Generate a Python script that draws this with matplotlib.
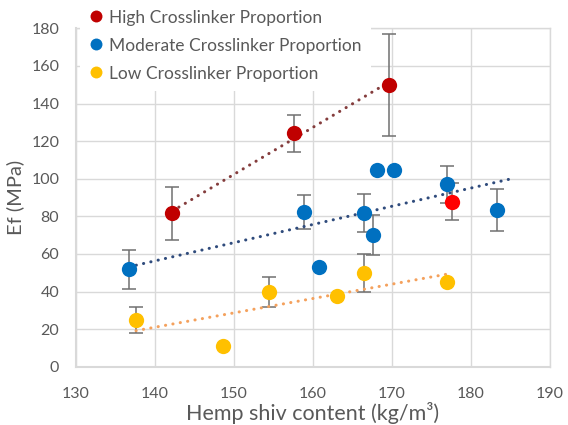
import numpy as np
import matplotlib
matplotlib.use("Agg")
import matplotlib.pyplot as plt

plt.rcParams['font.family'] = ['Lato', 'DejaVu Sans']

# --- data ---
high_x = [142.2, 157.6, 169.6]
high_y = [81.6, 124.1, 149.8]
high_err = [14.0, 10.0, 27.0]

outlier_x = [177.6]
outlier_y = [87.8]
outlier_err = [9.7]

mod_x = [136.7, 158.8, 160.8, 166.5, 167.6, 168.1, 170.2, 177.0, 183.3]
mod_y = [51.8, 82.3, 53.2, 81.6, 70.1, 104.6, 104.6, 97.0, 83.2]
mod_err = [10.3, 9.0, 0.0, 10.0, 10.5, 0.0, 0.0, 9.8, 11.2]

low_x = [137.6, 148.6, 154.4, 163.1, 166.5, 177.0]
low_y = [24.8, 11.0, 39.6, 37.8, 49.7, 45.0]
low_err = [6.8, 0.0, 8.0, 0.0, 10.0, 0.0]

mod_forecast = 1.6  # forward trendline forecast for moderate series

x_ticks = [130, 140, 150, 160, 170, 180, 190]
y_ticks = [0, 20, 40, 60, 80, 100, 120, 140, 160, 180]

labels = ["High Crosslinker Proportion", "Moderate Crosslinker Proportion",
          "Low Crosslinker Proportion"]

c_high, c_mod, c_low, c_out = "#C00000", "#0070C0", "#FFC000", "#FF0000"
t_high, t_mod, t_low = "#843C3C", "#2F4B7C", "#F4A15D"
grey_txt = "#595959"
grid_c = "#D9D9D9"

fig = plt.figure(figsize=(5.68, 4.25), dpi=100)
ax = fig.add_axes([76/568, 1-366.7/425, (550-76)/568, (366.7-28.3)/425])

def trend(x, y, color, forward=0.0):
    x = np.asarray(x); y = np.asarray(y)
    m, b = np.polyfit(x, y, 1)
    xs = np.array([x.min(), x.max() + forward])
    ax.plot(xs, m*xs + b, color=color, lw=2.2, linestyle=(0, (0.05, 2.4)),
            dash_capstyle='round', zorder=3)

def series(x, y, err, color, label=None):
    err = np.asarray(err, dtype=float)
    ax.errorbar(x, y, yerr=err, fmt='none', ecolor="#707070", elinewidth=1.1,
                capsize=4.7, capthick=1.1, zorder=2)
    ax.plot(x, y, 'o', color=color, markersize=11, markeredgewidth=0,
            zorder=4, label=label)

series(high_x, high_y, high_err, c_high, labels[0])
series(mod_x, mod_y, mod_err, c_mod, labels[1])
series(low_x, low_y, low_err, c_low, labels[2])
series(outlier_x, outlier_y, outlier_err, c_out)

trend(high_x, high_y, t_high)
trend(mod_x, mod_y, t_mod, mod_forecast)
trend(low_x, low_y, t_low)

ax.set_xlim(130, 190)
ax.set_ylim(0, 180)
ax.set_xticks(x_ticks)
ax.set_yticks(y_ticks)
ax.grid(True, color=grid_c, lw=1)
ax.set_axisbelow(True)
for s in ax.spines.values():
    s.set_color(grid_c)
    s.set_linewidth(1)
ax.spines['left'].set_linewidth(1.5)
ax.spines['bottom'].set_linewidth(1.5)
ax.tick_params(length=0, labelsize=11.5, labelcolor=grey_txt)
ax.tick_params(axis='x', pad=14.5)
ax.tick_params(axis='y', pad=12)

ax.set_xlabel("Hemp shiv content (kg/m³)", fontsize=15.5, color=grey_txt, labelpad=1)
ax.set_ylabel("Ef (MPa)", fontsize=14.5, color=grey_txt, labelpad=5)

handles, labs = ax.get_legend_handles_labels()
leg = ax.legend(handles, labs, loc='upper left', bbox_to_anchor=(80/568, 1.0),
                bbox_transform=fig.transFigure, frameon=True, fontsize=12.5,
                markerscale=0.78, handlelength=0.8, handletextpad=0.3,
                labelspacing=0.69, borderpad=0.55, borderaxespad=0)
leg.get_frame().set_facecolor('white')
leg.get_frame().set_edgecolor('none')
leg.get_frame().set_alpha(1)
for t in leg.get_texts():
    t.set_color(grey_txt)

fig.savefig("out.png", dpi=100)
